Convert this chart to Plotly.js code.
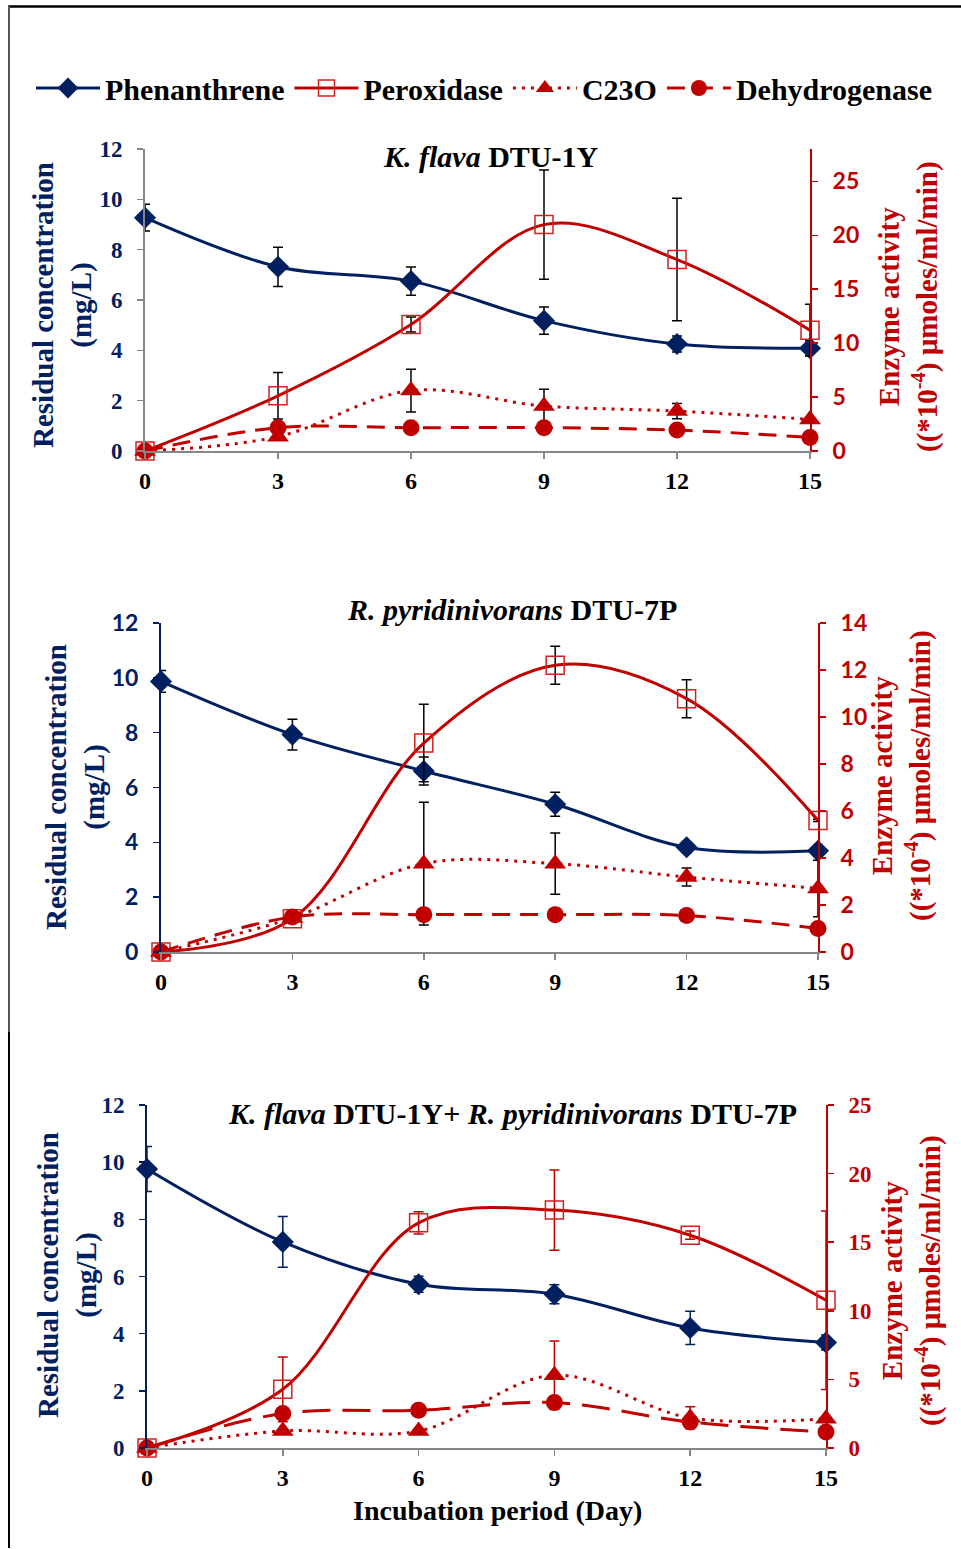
<!DOCTYPE html>
<html>
<head>
<meta charset="utf-8">
<script src="https://cdn.plot.ly/plotly-3.0.1.min.js"></script>
<style>html,body{margin:0;padding:0;background:#fff;}#chart{width:961px;height:1549px;}</style>
</head>
<body>
<div id="chart"></div>
<script>
// ---------- DATA ----------
const days = [0, 3, 6, 9, 12, 15];
const dayTicks = ['0', '3', '6', '9', '12', '15'];
const seriesNames = ['Phenanthrene', 'Peroxidase', 'C23O', 'Dehydrogenase'];

// Panel 1: K. flava DTU-1Y
const phen1 = [9.27, 7.32, 6.75, 5.18, 4.25, 4.08];
const phen1Err = [0.53, 0.78, 0.56, 0.54, 0.32, 0.3];
const perox1 = [0, 5.12, 11.73, 20.99, 17.75, 11.2];
const perox1Err = [0, 2.16, 0.7, 5.06, 5.68, 2.4];
const c23o1 = [0, 1.33, 5.6, 4.17, 3.7, 2.93];
const c23o1Err = [0, 0, 1.98, 1.56, 0.7, 0];
const dehyd1 = [0, 2.16, 2.16, 2.16, 1.94, 1.26];
const dehyd1Err = [0, 0.2, 0.2, 0.2, 0.2, 0.2];

// Panel 2: R. pyridinivorans DTU-7P
const phen2 = [9.87, 7.93, 6.6, 5.39, 3.82, 3.69];
const phen2Err = [0.4, 0.56, 0.51, 0.44, 0.2, 0.2];
const perox2 = [0, 1.42, 8.89, 12.2, 10.78, 5.6];
const perox2Err = [0, 0.1, 1.65, 0.81, 0.81, 0.05];
const c23o2 = [0, 1.45, 3.76, 3.76, 3.19, 2.7];
const c23o2Err = [0, 0, 2.61, 1.3, 0.38, 1.2];
const dehyd2 = [0, 1.49, 1.59, 1.59, 1.55, 1.0];
const dehyd2Err = [0, 0, 0, 0, 0, 0];

// Panel 3: K. flava DTU-1Y + R. pyridinivorans DTU-7P
const phen3 = [9.76, 7.21, 5.73, 5.38, 4.2, 3.69];
const phen3Err = [0.79, 0.89, 0.28, 0.33, 0.58, 0.26];
const perox3 = [0, 4.28, 16.41, 17.34, 15.51, 10.77];
const perox3Err = [0, 2.36, 0.81, 2.92, 0.3, 6.5];
const c23o3 = [0, 1.24, 1.24, 5.3, 2.2, 2.14];
const c23o3Err = [0, 0, 0, 2.5, 0.8, 0];
const dehyd3 = [0, 2.51, 2.75, 3.31, 1.9, 1.17];
const dehyd3Err = [0, 0, 0, 0, 0, 0];

const panelTitles = [
  '<b><i>K. flava</i> DTU-1Y</b>',
  '<b><i>R. pyridinivorans</i> DTU-7P</b>',
  '<b><i>K. flava</i> DTU-1Y+ <i>R. pyridinivorans</i> DTU-7P</b>'
];
const leftTitle = '<b>Residual concentration<br>(mg/L)</b>';
const rightTitle = '<b>Enzyme activity<br>((*10<sup>-4</sup>) µmoles/ml/min)</b>';
const xTitle = '<b>Incubation period (Day)</b>';

// ---------- STYLE ----------
const NAVY = '#002060', RED = '#C00000', GRAY = '#868686';
const SERIF = 'Liberation Serif, Times New Roman, serif';
const SANS = 'Lato, Carlito, Noto Sans, sans-serif';
const W = 961, H = 1549;
const fx = p => p / W, fy = p => 1 - p / H;

const panels = [
  {phen: phen1, phenE: phen1Err, per: perox1, perE: perox1Err, c: c23o1, cE: c23o1Err, d: dehyd1, dE: dehyd1Err,
   x0: 145, x1: 810, yTop: 149, yBot: 451, r: [0, 28], rdt: 5, errPhen: '#000', errEnz: '#000',
   leftLine: GRAY, leftFont: SERIF, rightFont: SANS, dehydDash: '18px,10px',
   title: {x: 490, y: 157}, lt: {x: 62, y: 305}, rt: {x: 908, y: 307}},
  {phen: phen2, phenE: phen2Err, per: perox2, perE: perox2Err, c: c23o2, cE: c23o2Err, d: dehyd2, dE: dehyd2Err,
   x0: 161, x1: 818, yTop: 623, yBot: 952, r: [0, 14], rdt: 2, errPhen: '#000', errEnz: '#000',
   leftLine: NAVY, leftFont: SANS, rightFont: SANS, dehydDash: '18px,10px',
   title: {x: 512, y: 609}, lt: {x: 75, y: 787}, rt: {x: 901, y: 776}},
  {phen: phen3, phenE: phen3Err, per: perox3, perE: perox3Err, c: c23o3, cE: c23o3Err, d: dehyd3, dE: dehyd3Err,
   x0: 147, x1: 826, yTop: 1105, yBot: 1448, r: [0, 25], rdt: 5, errPhen: NAVY, errEnz: RED,
   leftLine: NAVY, leftFont: SERIF, rightFont: SERIF, dehydDash: '28px,12px',
   title: {x: 512, y: 1113}, lt: {x: 67, y: 1275}, rt: {x: 911, y: 1281}}
];

const data = [];
const layout = {
  width: W, height: H,
  margin: {l: 0, r: 0, t: 0, b: 0},
  paper_bgcolor: '#fff', plot_bgcolor: 'rgba(0,0,0,0)',
  showlegend: true,
  legend: {
    orientation: 'h', x: fx(31), xanchor: 'left', y: fy(88), yanchor: 'middle',
    font: {family: SERIF, size: 30, color: '#000', weight: 'bold'},
    itemwidth: 64, tracegroupgap: 0, bgcolor: 'rgba(0,0,0,0)'
  },
  annotations: [], shapes: []
};

panels.forEach((p, i) => {
  const n = i + 1;
  const xa = 'x' + (n === 1 ? '' : n);
  const yl = 'y' + (2 * n - 1 === 1 ? '' : 2 * n - 1);
  const yr = 'y' + (2 * n);
  const showLeg = i === 0;
  const eb = (arr, col) => ({type: 'data', array: arr, visible: true, color: col, thickness: 1.5, width: 5});
  data.push({
    x: days, y: p.phen, xaxis: xa, yaxis: yl, name: seriesNames[0], showlegend: showLeg, legendrank: 1,
    mode: 'lines+markers', line: {color: NAVY, width: 3, shape: 'spline', smoothing: 1},
    marker: {symbol: 'diamond', size: 17, color: NAVY}, error_y: eb(p.phenE, p.errPhen), cliponaxis: false
  });
  data.push({
    x: days, y: p.per, xaxis: xa, yaxis: yr, name: seriesNames[1], showlegend: showLeg, legendrank: 2,
    mode: 'lines+markers', line: {color: RED, width: 3, shape: 'spline', smoothing: 1},
    marker: {symbol: 'square-open', size: 18, color: '#D42020', line: {width: 1.5}}, error_y: eb(p.perE, p.errEnz), cliponaxis: false
  });
  data.push({
    x: days, y: p.c, xaxis: xa, yaxis: yr, name: seriesNames[2], showlegend: showLeg, legendrank: 3,
    mode: 'lines+markers', line: {color: RED, width: 3, shape: 'spline', smoothing: 1, dash: '3px,6px'},
    marker: {symbol: 'triangle-up', size: 19, color: RED}, error_y: eb(p.cE, p.errEnz), cliponaxis: false
  });
  data.push({
    x: days, y: p.d, xaxis: xa, yaxis: yr, name: seriesNames[3], showlegend: showLeg, legendrank: 4,
    mode: 'lines+markers', line: {color: RED, width: 3, shape: 'spline', smoothing: 1, dash: p.dehydDash},
    marker: {symbol: 'circle', size: 17, color: RED}, error_y: eb(p.dE, p.errEnz), cliponaxis: false
  });

  const xKey = 'xaxis' + (n === 1 ? '' : n);
  const ylKey = 'yaxis' + (2 * n - 1 === 1 ? '' : 2 * n - 1);
  const yrKey = 'yaxis' + (2 * n);
  layout[xKey] = {
    domain: [fx(p.x0), fx(p.x1)], range: [0, 15], anchor: yl,
    tickmode: 'array', tickvals: days, ticktext: dayTicks,
    showline: true, linecolor: GRAY, linewidth: 2, ticks: 'outside', ticklen: 6, tickcolor: GRAY, tickwidth: 1.5,
    showgrid: false, zeroline: false, fixedrange: true, ticklabelstandoff: 1,
    tickfont: {family: SERIF, size: 24, color: '#000', weight: 'bold'}
  };
  layout[ylKey] = {
    domain: [fy(p.yBot), fy(p.yTop)], range: [0, 12], dtick: 2, anchor: xa,
    showline: true, linecolor: p.leftLine, linewidth: 2, ticks: 'outside', ticklen: 6, tickcolor: p.leftLine, tickwidth: 1.5,
    showgrid: false, zeroline: false, ticklabelstandoff: 10,
    tickfont: {family: p.leftFont, size: 23, color: NAVY, weight: 'bold'}
  };
  layout[yrKey] = {
    overlaying: yl, side: 'right', anchor: xa, range: p.r, dtick: p.rdt,
    showline: true, linecolor: RED, linewidth: 2, ticks: 'outside', ticklen: 6, tickcolor: RED, tickwidth: 1.5,
    showgrid: false, zeroline: false, ticklabelstandoff: 10,
    tickfont: {family: p.rightFont, size: 23, color: RED, weight: 'bold'}
  };

  layout.annotations.push({
    xref: 'paper', yref: 'paper', x: fx(p.title.x), y: fy(p.title.y), xanchor: 'center', yanchor: 'middle',
    text: panelTitles[i], showarrow: false, font: {family: SERIF, size: 30, color: '#000'}
  });
  layout.annotations.push({
    xref: 'paper', yref: 'paper', x: fx(p.lt.x), y: fy(p.lt.y), xanchor: 'center', yanchor: 'middle',
    text: leftTitle, textangle: -90, showarrow: false, font: {family: SERIF, size: 29, color: NAVY}
  });
  layout.annotations.push({
    xref: 'paper', yref: 'paper', x: fx(p.rt.x), y: fy(p.rt.y), xanchor: 'center', yanchor: 'middle',
    text: rightTitle, textangle: -90, showarrow: false, font: {family: SERIF, size: 29, color: RED}
  });
});

layout.annotations.push({
  xref: 'paper', yref: 'paper', x: fx(498), y: fy(1510), xanchor: 'center', yanchor: 'middle',
  text: xTitle, showarrow: false, font: {family: SERIF, size: 28, color: '#000'}
});

// frame lines
layout.shapes.push({type: 'line', xref: 'paper', yref: 'paper', x0: fx(8), x1: 1, y0: fy(6.5), y1: fy(6.5), line: {color: '#000', width: 2.5}});
layout.shapes.push({type: 'line', xref: 'paper', yref: 'paper', x0: fx(9), x1: fx(9), y0: fy(6), y1: fy(1032), line: {color: '#555', width: 2}});
layout.shapes.push({type: 'line', xref: 'paper', yref: 'paper', x0: fx(9), x1: fx(9), y0: fy(1032), y1: fy(1548), line: {color: '#000', width: 2}});

Plotly.newPlot('chart', data, layout, {staticPlot: true, displayModeBar: false});
</script>
</body>
</html>
